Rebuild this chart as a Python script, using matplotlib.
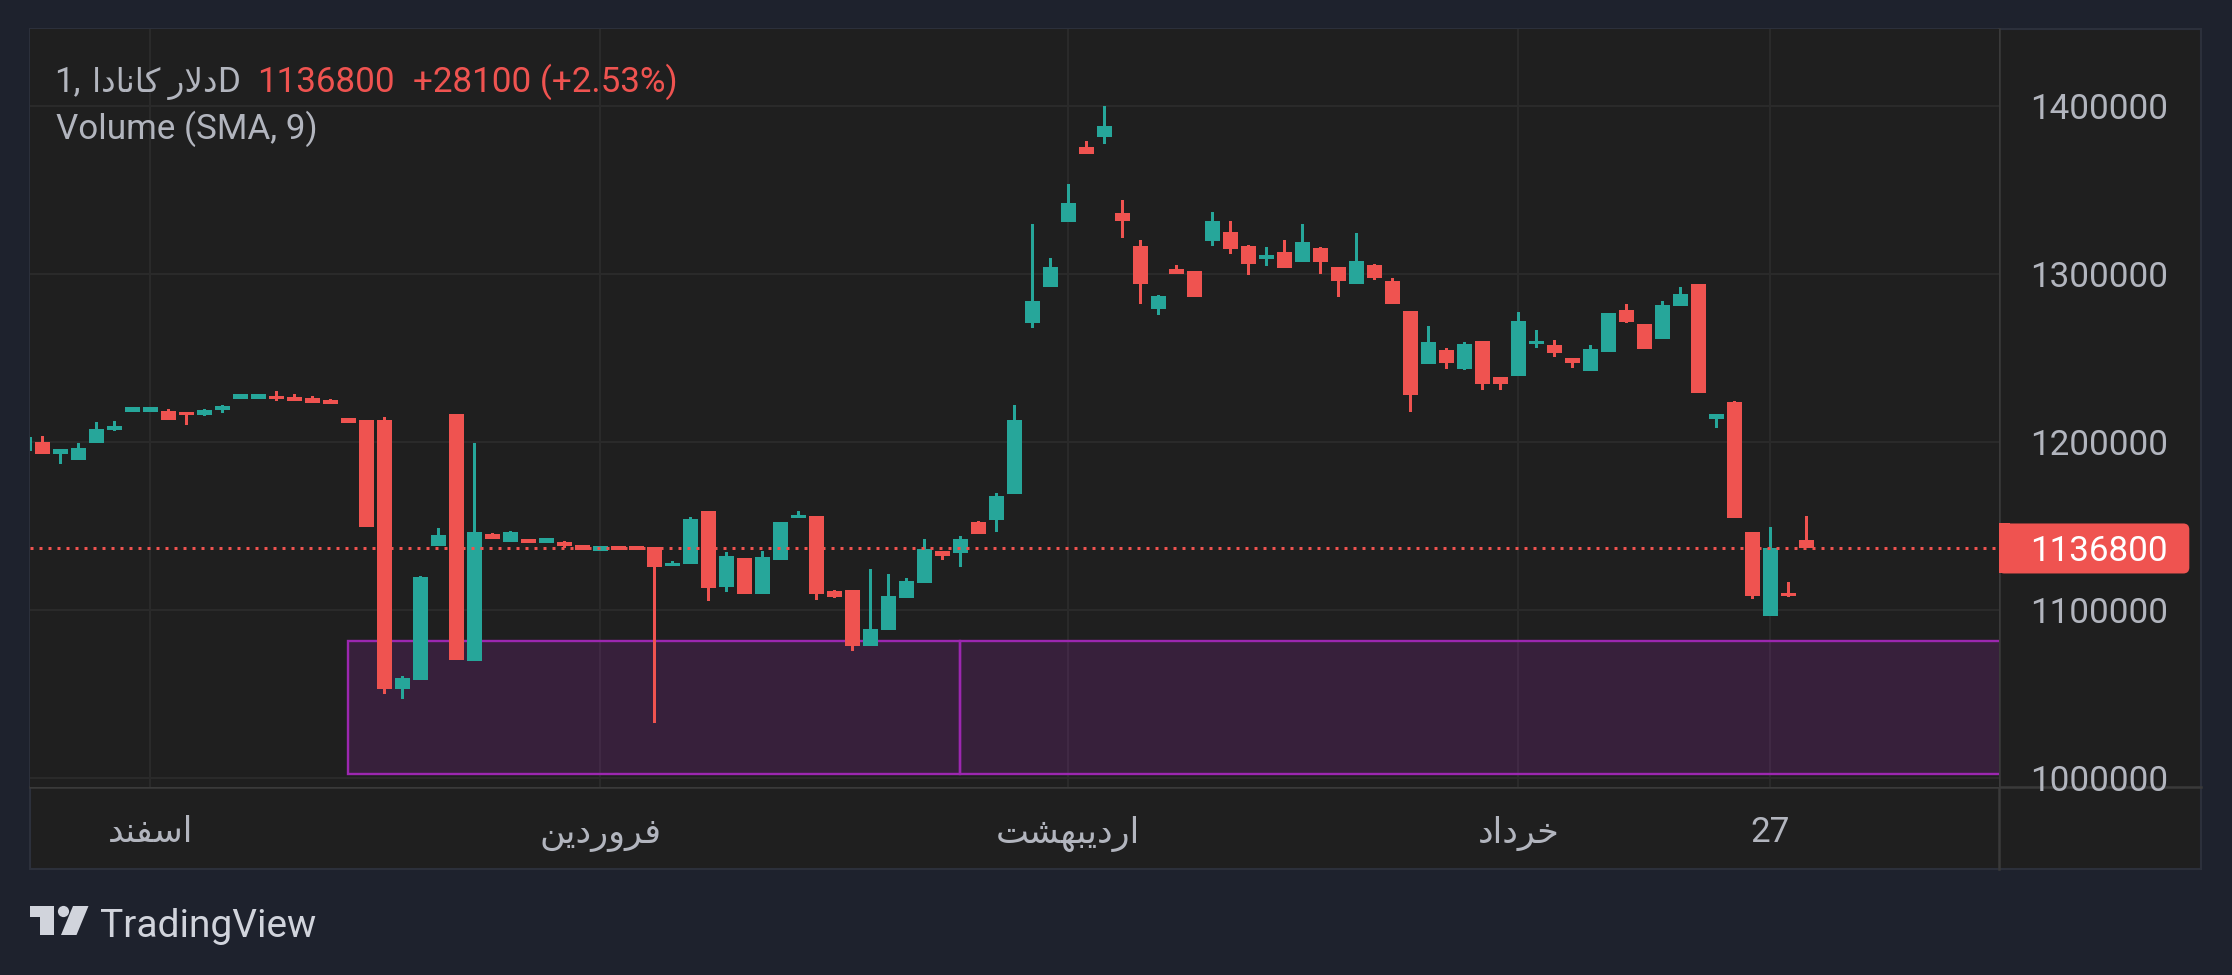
import numpy as np
import matplotlib
matplotlib.use("Agg")
import matplotlib.pyplot as plt
from matplotlib.patches import Rectangle, FancyBboxPatch, Circle, Polygon
from matplotlib.transforms import blended_transform_factory, offset_copy

# ---- data (daily candles, first one is only partly visible) ----
first_bar = -1
opens = [1195000, 1200200, 1193200, 1189500, 1199600, 1207300, 1218000, 1218000, 1218600, 1218000,
         1216000, 1219200, 1225800, 1225800, 1227600, 1227000, 1226400, 1225200, 1214500, 1213300,
         1213300, 1053200, 1058500, 1138300, 1216800, 1069800, 1145400, 1140700, 1142400, 1140100,
         1140700, 1138900, 1135300, 1138300, 1138300, 1137700, 1126400, 1127600, 1159100, 1113900,
         1131100, 1109700, 1129900, 1154900, 1156100, 1111500, 1112100, 1078800, 1088300, 1107300,
         1116300, 1135300, 1134100, 1152600, 1153800, 1169200, 1271000, 1292400, 1331100, 1375800,
         1381700, 1336500, 1316800, 1279300, 1303100, 1302000, 1319800, 1325200, 1316800, 1309100,
         1313300, 1307300, 1315600, 1304300, 1294200, 1305500, 1296000, 1278200, 1246600, 1254900,
         1243600, 1260300, 1238900, 1239500, 1258500, 1257900, 1250200, 1242400, 1253700, 1278700,
         1270400, 1261500, 1281100, 1294200, 1213900, 1224000, 1146600, 1096600, 1110300, 1141800]
highs = [1203200, 1203700, 1196000, 1199600, 1212100, 1212700, 1221000, 1221000, 1219800, 1218000,
         1219800, 1222200, 1228700, 1228700, 1230500, 1228700, 1227600, 1225800, 1214500, 1213300,
         1215100, 1060900, 1120400, 1149000, 1216800, 1199600, 1146000, 1147200, 1142400, 1143000,
         1141300, 1138900, 1138300, 1138300, 1138300, 1137700, 1129400, 1155500, 1159100, 1134700,
         1131100, 1135300, 1152600, 1159100, 1156100, 1112100, 1112100, 1124600, 1121600, 1119200,
         1142400, 1135300, 1144200, 1153200, 1169800, 1222200, 1329900, 1309700, 1353700, 1379300,
         1400200, 1344200, 1320400, 1287700, 1305500, 1302000, 1337100, 1331700, 1317400, 1316200,
         1320400, 1329900, 1316200, 1304300, 1324600, 1306100, 1297800, 1278200, 1269200, 1256100,
         1259700, 1260300, 1238900, 1277600, 1266800, 1260900, 1250200, 1257900, 1277000, 1282300,
         1270400, 1284100, 1292400, 1294200, 1216800, 1224600, 1146600, 1149600, 1116900, 1156100]
lows = [1195000, 1193200, 1187300, 1189500, 1199600, 1206700, 1218000, 1218000, 1213300, 1210300,
        1215700, 1217400, 1225800, 1225800, 1224600, 1224600, 1223400, 1222800, 1211500, 1149600,
        1050200, 1047200, 1058500, 1138300, 1070400, 1069800, 1142400, 1140700, 1140100, 1140100,
        1137100, 1135900, 1135300, 1135900, 1135900, 1032900, 1126400, 1127600, 1105500, 1110900,
        1109700, 1109700, 1129900, 1154900, 1106100, 1107300, 1075800, 1078800, 1088300, 1107300,
        1116300, 1129900, 1125800, 1145400, 1146600, 1169200, 1268000, 1292400, 1331100, 1371600,
        1377500, 1321600, 1282300, 1275800, 1300200, 1286500, 1316800, 1312100, 1299600, 1304900,
        1303700, 1307300, 1300200, 1286500, 1294200, 1296600, 1282300, 1218000, 1246600, 1243600,
        1243000, 1231100, 1231100, 1239500, 1256100, 1250800, 1244200, 1242400, 1253700, 1271000,
        1255500, 1261500, 1281100, 1229300, 1208500, 1154900, 1106700, 1096600, 1107900, 1136800]
closes = [1203200, 1193200, 1196000, 1196600, 1207900, 1209700, 1221000, 1221000, 1213300, 1216000,
          1219200, 1221600, 1228700, 1228700, 1225800, 1224800, 1223400, 1222800, 1211500, 1149600,
          1053200, 1059700, 1119800, 1144800, 1070400, 1146600, 1142400, 1146600, 1140100, 1143000,
          1138300, 1135900, 1138300, 1135900, 1135900, 1125800, 1128200, 1154300, 1113300, 1132300,
          1109700, 1131700, 1152600, 1156700, 1109700, 1107900, 1078800, 1088900, 1108500, 1117400,
          1136500, 1132300, 1142400, 1145400, 1168000, 1213300, 1284100, 1304300, 1342400, 1371600,
          1388300, 1331700, 1294200, 1287100, 1300200, 1286500, 1331700, 1315000, 1306100, 1311500,
          1303700, 1319200, 1307300, 1296000, 1307900, 1297800, 1282300, 1228200, 1259700, 1247200,
          1258500, 1234700, 1234700, 1272200, 1260300, 1253200, 1247200, 1255500, 1277000, 1271600,
          1255500, 1281700, 1288300, 1229300, 1216800, 1154900, 1108500, 1137100, 1108700, 1136800]

price_ticks = [1000000, 1100000, 1200000, 1300000, 1400000]
time_ticks = [6, 31, 57, 82, 96]
# Persian month names, written in presentation forms and visual order
time_labels = ["\uFEAA\uFEE8\uFED4\uFEB3\uFE8D",                        # اسفند
               "\uFEE6\uFBFE\uFEA9\uFEAD\uFEED\uFEAE\uFED3",            # فروردین
               "\uFE96\uFEB8\uFEEC\uFE92\uFBFE\uFEA9\uFEAD\uFE8D",      # اردیبهشت
               "\uFEA9\uFE8D\uFEA9\uFEAE\uFEA7",                        # خرداد
               "27"]
symbol_name = "\uFE8D\uFEA9\uFE8E\uFEE7\uFE8E\uFB90 \uFEAD\uFEFB\uFEA9"  # دلار کانادا
last_price = 1136800
change = 28100
change_pct = 2.53
zone_top = 1081500
zone_bottom = 1002600
zone_edges = [17, 51]

# ---- styling ----
W, H = 2232, 975
OUTER = "#1e222d"
PANEL = "#1f1f1f"
GRID = "#2a2a2a"
SEP = "#3a3a3a"
TEXT = "#b2b5be"
UP = "#26a69a"
DOWN = "#ef5350"
ZONE = "#9c27b0"
FONTS = ["Roboto", "DejaVu Sans"]
FS = 25.2

fig = plt.figure(figsize=(W / 100, H / 100), dpi=100, facecolor=OUTER)
bg = fig.add_axes([0, 0, 1, 1])
bg.set_xlim(0, W)
bg.set_ylim(H, 0)
bg.axis("off")

plot_l, plot_t, plot_r, plot_b = 30, 29.3, 1999.3, 787.3
panel_r, panel_b = 2201, 869

bg.add_patch(Rectangle((plot_l, plot_t), panel_r - plot_l, panel_b - plot_t,
                       facecolor=PANEL, edgecolor="#2c303b", linewidth=1.5, zorder=0))
bg.plot([plot_r, plot_r], [plot_t, panel_b], color=SEP, lw=1.8, zorder=1)
bg.plot([plot_l, panel_r], [plot_b, plot_b], color=SEP, lw=1.8, zorder=1)

ax = fig.add_axes([plot_l / W, (H - plot_b) / H, (plot_r - plot_l) / W, (plot_b - plot_t) / H])
ax.set_facecolor(PANEL)
ax.set_zorder(2)
for s in ax.spines.values():
    s.set_visible(False)

ax.set_xlim(-0.683, 108.72)
ax.set_ylim(994650, 1445820)
ax.set_xticks(time_ticks)
ax.set_yticks(price_ticks)
ax.tick_params(length=0, labelbottom=False, labelleft=False)
ax.grid(True, color=GRID, linewidth=1.5)
ax.set_axisbelow(True)

o = np.array(opens)
h = np.array(highs)
l = np.array(lows)
c = np.array(closes)
x = np.arange(first_bar, first_bar + len(o))
colors = np.where(c >= o, UP, DOWN)
body_lo = np.minimum(o, c)
body_h = np.maximum(np.abs(c - o), 1500)

# demand zone boxes
ax.add_patch(Rectangle((zone_edges[0], zone_bottom), zone_edges[1] - zone_edges[0], zone_top - zone_bottom,
                       facecolor=(156 / 255, 39 / 255, 176 / 255, 0.2), edgecolor=ZONE, linewidth=1.7, zorder=1))
ax.add_patch(Rectangle((zone_edges[1], zone_bottom), 200, zone_top - zone_bottom,
                       facecolor=(156 / 255, 39 / 255, 176 / 255, 0.2), edgecolor=ZONE, linewidth=1.7, zorder=1))

ax.bar(x, h - l, bottom=l, width=3 / 18, color=colors, linewidth=0, zorder=3)
ax.bar(x, body_h, bottom=body_lo, width=15 / 18, color=colors, linewidth=0, zorder=3)

ax.axhline(last_price, color=DOWN, linewidth=2.16, linestyle=(0, (1, 2)), zorder=4)

# price scale labels
ytrans = offset_copy(blended_transform_factory(bg.transData, ax.transData), fig=fig, y=-12.4, units="dots")
clip = Rectangle((plot_r, plot_t), panel_r - plot_r, plot_b - plot_t, transform=bg.transData)
for p in price_ticks:
    t = bg.text(2030, p, f"{p}", transform=ytrans, ha="left", va="baseline",
                fontsize=FS, color=TEXT, family=FONTS, zorder=3)
    t.set_clip_path(clip)

# last price tag
y_last = H - ax.transData.transform((0, last_price))[1]
bg.add_patch(FancyBboxPatch((1998.3, y_last - 25), 191, 50, boxstyle="round,pad=0,rounding_size=6",
                            facecolor=DOWN, edgecolor="none", zorder=4))
bg.add_patch(Rectangle((1998.3, y_last - 25), 12, 50, facecolor=DOWN, edgecolor="none", zorder=4))
bg.text(2030, y_last + 12.4, f"{last_price}", ha="left", va="baseline", fontsize=FS,
        color="white", family=FONTS, zorder=5)

# time scale labels
xtrans = blended_transform_factory(ax.transData, bg.transData)
for pos, lab in zip(time_ticks, time_labels):
    bg.text(pos, 842.5, lab, transform=xtrans, ha="center", va="baseline",
            fontsize=FS, color=TEXT, family=FONTS, zorder=3)

# legend lines (figure level so they sit above the price pane)
tr = bg.transData
fig.text(54, 91.5, "1,", transform=tr, ha="left", va="baseline",
         fontsize=FS, color=TEXT, family=FONTS, zorder=6)
fig.text(217, 91.5, symbol_name, transform=tr, ha="right", va="baseline",
         fontsize=23.6, color=TEXT, family=FONTS, zorder=6)
fig.text(217, 91.5, "D", transform=tr, ha="left", va="baseline",
         fontsize=FS, color=TEXT, family=FONTS, zorder=6)
fig.text(256.7, 91.5, f"{last_price}", transform=tr, ha="left", va="baseline",
         fontsize=FS, color=DOWN, family=FONTS, zorder=6)
fig.text(413, 91.5, f"+{change} (+{change_pct:.2f}%)", transform=tr, ha="left", va="baseline",
         fontsize=FS, color=DOWN, family=FONTS, zorder=6)
fig.text(56, 139, "Volume (SMA, 9)", transform=tr, ha="left", va="baseline",
         fontsize=FS, color=TEXT, family=FONTS, zorder=6)

# TradingView logo
LOGO = "#d1d4dc"
bg.add_patch(Polygon([(30, 906), (54.2, 906), (54.2, 935), (39.5, 935), (39.5, 916.7), (30, 916.7)],
                     closed=True, facecolor=LOGO, edgecolor="none", zorder=3))
bg.add_patch(Circle((63.5, 911.5), 5.6, facecolor=LOGO, edgecolor="none", zorder=3))
bg.add_patch(Polygon([(73, 906), (88.5, 906), (76.5, 935), (61, 935)],
                     closed=True, facecolor=LOGO, edgecolor="none", zorder=3))
bg.text(100, 936.7, "TradingView", ha="left", va="baseline", fontsize=28,
        color=LOGO, family=FONTS, zorder=3)

fig.savefig("out.png", dpi=100, facecolor=OUTER)
